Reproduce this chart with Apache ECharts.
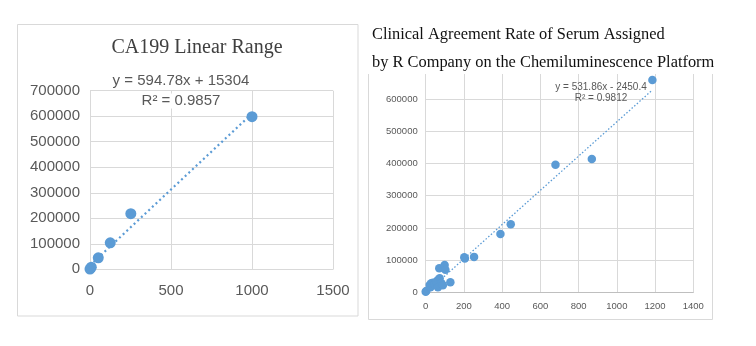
<!DOCTYPE html>
<html><head><meta charset="utf-8">
<script src="https://cdn.jsdelivr.net/npm/echarts@6/dist/echarts.min.js"></script>
<style>html,body{margin:0;padding:0;background:#fff}#c{width:756px;height:346px}</style>
</head><body><div id="c"></div>
<script>
// Left chart: CA199 linear range
const leftPoints = [[0, 1000], [8, 8000], [51, 45000], [125, 104000], [252, 218000], [1000, 598000]];
const leftTrend = [[0, 15304], [1000, 610084]];
const leftEq = 'y = 594.78x + 15304';
const leftR2 = 'R² = 0.9857';
// Right chart: clinical agreement
const rightPoints = [
  [0, 2000], [3, 4000], [21, 22700], [25, 16000], [29, 28000], [38, 30000], [45, 25000],
  [55, 33000], [64, 38000], [73, 43500], [64, 16000], [82, 28000], [90, 22000],
  [71, 74500], [99, 85000], [103, 70000], [129, 31000], [202, 109000], [205, 105000],
  [253, 110000], [391, 181000], [445, 211000], [679, 396000], [869, 414000], [1186, 659000]
];
const rightTrend = [[0, -2450.4], [1186, 628355]];
const rightEq = 'y = 531.86x - 2450.4';
const rightR2 = 'R² = 0.9812';

const blue = '#5b9bd5';
const grid = '#d9d9d9';
const lbl = '#595959';

const chart = echarts.init(document.getElementById('c'), null, {renderer: 'canvas'});
chart.setOption({
  backgroundColor: '#fff',
  animation: false,
  grid: [
    {left: 90, width: 243, top: 90.7, height: 178.6},
    {left: 425.7, width: 267.6, top: 66.9, height: 225.4}
  ],
  xAxis: [
    {gridIndex: 0, type: 'value', min: 0, max: 1500, interval: 500,
      axisLine: {show: true, lineStyle: {color: grid}}, axisTick: {show: false},
      splitLine: {show: true, lineStyle: {color: grid}},
      axisLabel: {color: lbl, fontSize: 15, fontFamily: 'Liberation Sans', margin: 14, formatter: v => String(v)}},
    {gridIndex: 1, type: 'value', min: 0, max: 1400, interval: 200,
      axisLine: {show: true, lineStyle: {color: '#bfbfbf'}}, axisTick: {show: false},
      splitLine: {show: true, lineStyle: {color: grid}},
      axisLabel: {color: lbl, fontSize: 9.5, fontFamily: 'Liberation Sans', margin: 9, formatter: v => String(v)}}
  ],
  yAxis: [
    {gridIndex: 0, type: 'value', min: 0, max: 700000, interval: 100000,
      axisLine: {show: true, lineStyle: {color: grid}}, axisTick: {show: false},
      splitLine: {show: true, lineStyle: {color: grid}},
      axisLabel: {color: lbl, fontSize: 15, fontFamily: 'Liberation Sans', margin: 10, formatter: v => String(v)}},
    {gridIndex: 1, type: 'value', min: 0, max: 700000, interval: 100000,
      axisLine: {show: true, lineStyle: {color: grid}}, axisTick: {show: false},
      splitLine: {show: true, lineStyle: {color: grid}},
      axisLabel: {color: lbl, fontSize: 9.5, fontFamily: 'Liberation Sans', margin: 8,
        formatter: v => v === 700000 ? '' : String(v)}}
  ],
  series: [
    {type: 'line', xAxisIndex: 0, yAxisIndex: 0, data: leftTrend, symbol: 'none',
      lineStyle: {color: blue, width: 2.2, type: [2, 3]}, z: 2},
    {type: 'scatter', xAxisIndex: 0, yAxisIndex: 0, data: leftPoints, symbolSize: 11,
      itemStyle: {color: blue, opacity: 1}, z: 3},
    {type: 'line', xAxisIndex: 1, yAxisIndex: 1, data: rightTrend, symbol: 'none',
      lineStyle: {color: blue, width: 1.3, type: [1.5, 2]}, z: 2},
    {type: 'scatter', xAxisIndex: 1, yAxisIndex: 1, data: rightPoints, symbolSize: 8.5,
      itemStyle: {color: blue, opacity: 1}, z: 3}
  ],
  graphic: [
    {type: 'rect', shape: {x: 17.5, y: 24.5, width: 340.5, height: 291.5}, silent: true,
      style: {fill: 'none', stroke: '#d9d9d9', lineWidth: 1}, z: -1},
    {type: 'polyline', shape: {points: [[368.5, 74], [368.5, 319.5], [712.5, 319.5], [712.5, 74]]}, silent: true,
      style: {fill: 'none', stroke: '#d9d9d9', lineWidth: 1}, z: -1},
    {type: 'text', style: {text: 'CA199 Linear Range', x: 197, y: 48, align: 'center', verticalAlign: 'middle',
      font: '20px "Liberation Serif"', fill: '#404040'}, z: 10},
    {type: 'text', style: {text: leftEq, x: 181, y: 81, align: 'center', verticalAlign: 'middle',
      font: '15px "Liberation Sans"', fill: lbl, backgroundColor: '#fff'}, z: 10},
    {type: 'text', style: {text: leftR2, x: 181, y: 101, align: 'center', verticalAlign: 'middle',
      font: '15px "Liberation Sans"', fill: lbl, backgroundColor: '#fff'}, z: 10},
    {type: 'text', style: {text: 'Clinical Agreement Rate of Serum Assigned', x: 372, y: 35, align: 'left', verticalAlign: 'middle',
      font: '16.4px "Liberation Serif"', fill: '#111'}, z: 10},
    {type: 'text', style: {text: 'by R Company on the Chemiluminescence Platform', x: 372, y: 63, align: 'left', verticalAlign: 'middle',
      font: '16.4px "Liberation Serif"', fill: '#111', backgroundColor: '#fff', padding: [3, 0, 3, 0]}, z: 10},
    {type: 'text', style: {text: rightEq, x: 601, y: 87, align: 'center', verticalAlign: 'middle',
      font: '10px "Liberation Sans"', fill: lbl}, z: 10},
    {type: 'text', style: {text: rightR2, x: 601, y: 98.5, align: 'center', verticalAlign: 'middle',
      font: '10px "Liberation Sans"', fill: lbl}, z: 10}
  ]
});
</script></body></html>
